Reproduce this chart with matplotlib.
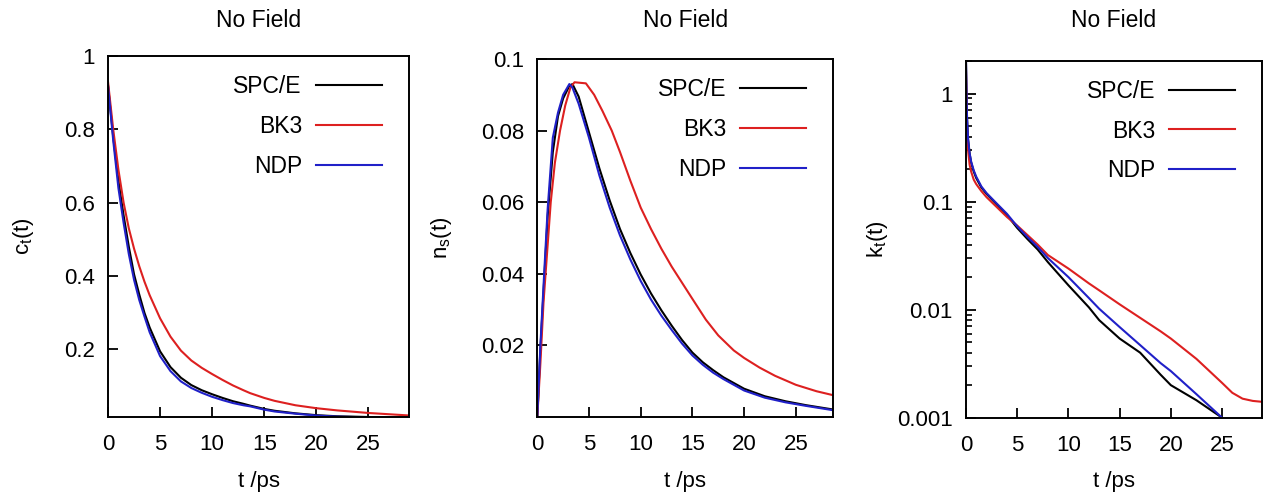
import numpy as np
import matplotlib
matplotlib.use("Agg")
import matplotlib.pyplot as plt
from matplotlib.ticker import LogLocator, NullFormatter, FixedLocator

plt.rcParams['font.family'] = ['Liberation Sans', 'DejaVu Sans']
plt.rcParams['mathtext.fontset'] = 'custom'
plt.rcParams['mathtext.rm'] = 'Liberation Sans'
plt.rcParams['mathtext.it'] = 'Liberation Sans:italic'

# ---------------- data ----------------
series_names = ["SPC/E", "BK3", "NDP"]
colors = ["#000000", "#dd2020", "#2020c8"]
title = "No Field"
xlabel = "t /ps"

# panel 1: c_t(t)
t1 = [0, 0.5, 1, 1.5, 2, 2.5, 3, 3.5, 4, 5, 6, 7, 8, 9, 10, 11, 12, 13, 13.65, 15, 16, 18, 20, 22, 25, 29]
c_spce = [0.92, 0.78, 0.66, 0.565, 0.48, 0.405, 0.35, 0.30, 0.26, 0.195, 0.152, 0.123, 0.103, 0.089, 0.078,
          0.068, 0.059, 0.052, 0.047, 0.038, 0.033, 0.026, 0.021, 0.018, 0.016, 0.014]
c_bk3 = [0.93, 0.80, 0.69, 0.60, 0.53, 0.475, 0.427, 0.385, 0.348, 0.285, 0.235, 0.197, 0.170, 0.150, 0.133,
         0.117, 0.102, 0.089, 0.081, 0.068, 0.060, 0.048, 0.040, 0.034, 0.027, 0.020]
c_ndp = [0.92, 0.77, 0.64, 0.545, 0.46, 0.39, 0.335, 0.29, 0.247, 0.182, 0.141, 0.113, 0.095, 0.082, 0.071,
         0.062, 0.054, 0.048, 0.045, 0.036, 0.031, 0.025, 0.020, 0.017, 0.015, 0.013]

# panel 2: n_s(t)
t2 = [0, 0.3, 0.7, 1.0, 1.5, 2.0, 2.5, 3.1, 3.4, 4, 5, 6, 7, 8, 9, 10, 11, 12, 13, 14, 15, 16, 17, 18, 20,
      22, 24, 26, 28.6]
n_spce = [0, 0.019, 0.040, 0.056, 0.074, 0.084, 0.089, 0.0925, 0.093, 0.0895, 0.0795, 0.0695, 0.0605, 0.0525,
          0.0458, 0.0398, 0.0345, 0.0298, 0.0255, 0.0215, 0.0180, 0.0153, 0.0131, 0.0111, 0.0079, 0.0058,
          0.0044, 0.0033, 0.0021]
n_ndp = [0, 0.020, 0.042, 0.058, 0.078, 0.085, 0.090, 0.093, 0.092, 0.0875, 0.078, 0.0675, 0.0585, 0.0507,
         0.044, 0.038, 0.0328, 0.0283, 0.0243, 0.0205, 0.0172, 0.0146, 0.0124, 0.0106, 0.0074, 0.0054,
         0.0041, 0.0031, 0.0019]
t2_bk3 = [0, 0.3, 0.6, 0.9, 1.3, 1.7, 2.2, 2.7, 3.2, 3.6, 4.7, 5.5, 6.3, 7.2, 8, 9, 10, 11, 12, 13, 14, 15,
          16.3, 17.5, 19, 20, 21.5, 23, 25, 27, 28.6]
n_bk3 = [0, 0.015, 0.032, 0.044, 0.060, 0.071, 0.080, 0.087, 0.092, 0.0935, 0.0932, 0.090, 0.0855, 0.080,
         0.074, 0.066, 0.0585, 0.0525, 0.047, 0.042, 0.0375, 0.0330, 0.0272, 0.0228, 0.0186, 0.0165, 0.0138,
         0.0115, 0.0090, 0.0072, 0.0061]

# panel 3: k_t(t)
t3 = [0, 0.05, 0.1, 0.2, 0.35, 0.5, 0.75, 1, 1.5, 2, 3, 4, 5, 6, 7, 8, 10, 12, 13, 15, 17, 19, 20, 22.5, 25]
k_spce = [2.0, 1.0, 0.6, 0.38, 0.28, 0.23, 0.19, 0.165, 0.135, 0.118, 0.094, 0.075, 0.057, 0.045, 0.036,
          0.0275, 0.0168, 0.0105, 0.0080, 0.0054, 0.0040, 0.0025, 0.0020, 0.00145, 0.001]
k_ndp = [2.0, 1.0, 0.6, 0.38, 0.28, 0.235, 0.195, 0.17, 0.138, 0.12, 0.096, 0.077, 0.059, 0.047, 0.038,
         0.030, 0.020, 0.0128, 0.0102, 0.0069, 0.0047, 0.0032, 0.0027, 0.00165, 0.001]
t3_bk3 = [0, 0.05, 0.1, 0.2, 0.35, 0.5, 0.75, 1, 1.5, 2, 3, 4, 5, 6, 7, 8, 10, 12, 13, 15, 17, 19, 20,
          22.5, 25, 26, 27, 28, 29]
k_bk3 = [1.6, 0.8, 0.45, 0.30, 0.22, 0.19, 0.16, 0.145, 0.125, 0.11, 0.089, 0.072, 0.060, 0.049, 0.040,
         0.032, 0.024, 0.0175, 0.0151, 0.0112, 0.0084, 0.0063, 0.0054, 0.0035, 0.0021, 0.0017, 0.0015,
         0.00143, 0.0014]

ylabels = [r"c$_\mathrm{t}$(t)", r"n$_\mathrm{s}$(t)", r"k$_\mathrm{t}$(t)"]
yticks1 = [0.2, 0.4, 0.6, 0.8, 1.0]
yticklabels1 = ["0.2", "0.4", "0.6", "0.8", "1"]
yticks2 = [0.02, 0.04, 0.06, 0.08, 0.1]
yticklabels2 = ["0.02", "0.04", "0.06", "0.08", "0.1"]
yticks3 = [0.001, 0.01, 0.1, 1]
yticklabels3 = ["0.001", "0.01", "0.1", "1"]
xticks = [0, 5, 10, 15, 20, 25]

# ---------------- figure ----------------
W, H = 1264, 498
fig = plt.figure(figsize=(W / 100, H / 100), dpi=100)

def px_axes(left, right, top, bottom):
    return fig.add_axes([left / W, 1 - bottom / H, (right - left) / W, (bottom - top) / H])

ax1 = px_axes(108, 409, 56, 417)
ax2 = px_axes(537.3, 833, 59, 417)
ax3 = px_axes(966, 1262, 61, 417.7)

FS = 16
TFS = 16.5
LFS = 16.5
LW = 1.5

panels = [
    (ax1, [(t1, c_spce), (t1, c_bk3), (t1, c_ndp)], (0, 28.9), (0.016, 1.0), yticks1, yticklabels1, -0.28),
    (ax2, [(t2, n_spce), (t2_bk3, n_bk3), (t2, n_ndp)], (0, 28.6), (0.0, 0.1), yticks2, yticklabels2, -0.325),
    (ax3, [(t3, k_spce), (t3_bk3, k_bk3), (t3, k_ndp)], (0, 28.9), (0.001, 2.0), yticks3, yticklabels3, -0.30),
]

for i, (ax, data, xl, yl, yt, ytl, ylx) in enumerate(panels):
    if i == 2:
        ax.set_yscale('log')
    for (tx, vy), name, col in zip(data, series_names, colors):
        ax.plot(tx, vy, color=col, lw=LW, label=name, solid_joinstyle='round')
    ax.set_xlim(*xl)
    ax.set_ylim(*yl)
    ax.set_xticks(xticks)
    ax.set_xticklabels([str(x) for x in xticks])
    ax.set_yticks(yt)
    ax.set_yticklabels(ytl)
    if i == 2:
        ax.yaxis.set_minor_locator(LogLocator(base=10, subs=np.arange(2, 10)))
        ax.yaxis.set_minor_formatter(NullFormatter())
        ax.tick_params(axis='y', which='minor', direction='in', length=4.5, width=1.2, left=True, right=False)
    ax.tick_params(axis='both', which='major', direction='in', length=7.5, width=1.3,
                   labelsize=FS, top=False, right=False)
    ax.tick_params(axis='x', pad=12.5)
    ax.tick_params(axis='y', pad=9.5)
    ax.xaxis.set_minor_locator(FixedLocator([]))
    for sp in ax.spines.values():
        sp.set_linewidth(1.4)
    ax.set_xlabel(xlabel, fontsize=FS, va='center')
    ax.xaxis.set_label_coords(0.5, -0.18)
    ax.set_ylabel(ylabels[i], fontsize=FS, va='center')
    ax.yaxis.set_label_coords(ylx, 0.5)
    leg = ax.legend(loc='upper right', bbox_to_anchor=(0.91, 0.948), markerfirst=False, frameon=False,
                    fontsize=LFS, handlelength=2.88, handletextpad=0.61, labelspacing=0.74,
                    borderaxespad=0, borderpad=0)
    pos = ax.get_position()
    fig.text(pos.x0 + pos.width / 2, 1 - 20 / H, title, ha='center', va='center', fontsize=TFS)

fig.savefig("out.png", dpi=100)
